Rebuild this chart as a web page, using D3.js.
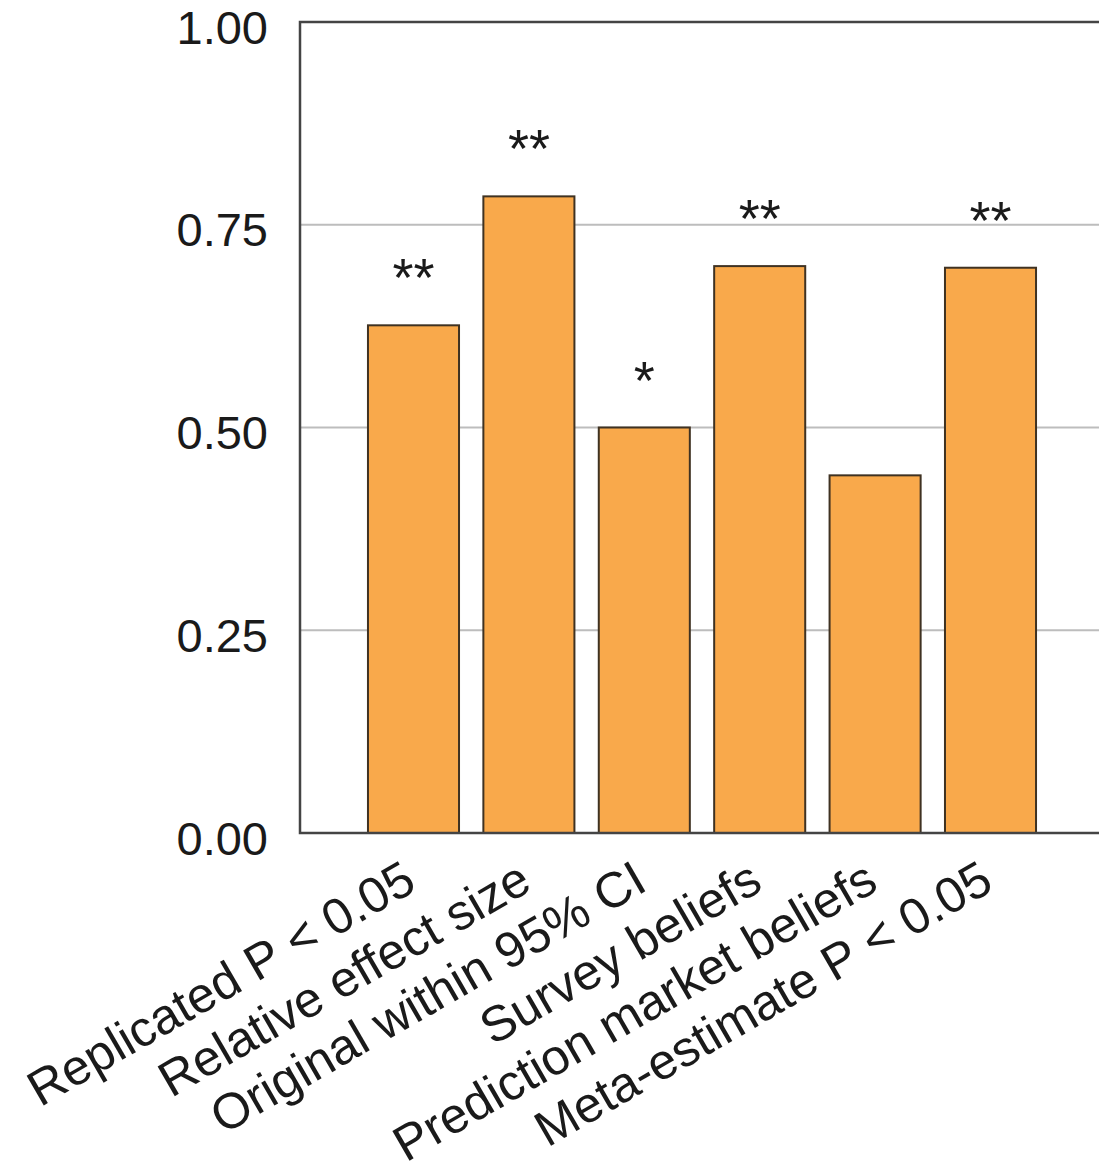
<!DOCTYPE html>
<html>
<head>
<meta charset="utf-8">
<script src="https://cdn.jsdelivr.net/npm/d3@7"></script>
<style>
  html, body { margin: 0; padding: 0; background: #fff; }
  svg { display: block; }
  text { font-family: "Liberation Sans", Arial, Helvetica, sans-serif; }
</style>
</head>
<body>
<div id="chart"></div>
<script>
const categories = [
  "Replicated P < 0.05",
  "Relative effect size",
  "Original within 95% CI",
  "Survey beliefs",
  "Prediction market beliefs",
  "Meta-estimate P < 0.05"
];
const values = [0.626, 0.785, 0.500, 0.699, 0.441, 0.697];
const stars = ["**", "**", "*", "**", "", "**"];
const yTicks = [0, 0.25, 0.5, 0.75, 1.0];
const yTickLabels = ["0.00", "0.25", "0.50", "0.75", "1.00"];

const W = 1099, H = 1171;
const plot = { left: 300, right: 1104, top: 22, bottom: 833 };

const svg = d3.select("#chart").append("svg")
  .attr("width", W).attr("height", H);

const x = d3.scaleBand()
  .domain(categories)
  .range([plot.left, plot.right])
  .paddingInner(0.211)
  .paddingOuter(0.589);

const y = d3.scaleLinear()
  .domain([0, 1])
  .range([plot.bottom, plot.top]);

// gridlines
svg.append("g")
  .selectAll("line")
  .data(yTicks.filter(t => t > 0 && t < 1))
  .join("line")
  .attr("x1", plot.left).attr("x2", plot.right)
  .attr("y1", d => y(d)).attr("y2", d => y(d))
  .attr("stroke", "#bdbdbd")
  .attr("stroke-width", 2);

// y axis labels
const yAxis = d3.axisLeft(y)
  .tickValues(yTicks)
  .tickFormat((d, i) => yTickLabels[i])
  .tickSize(0)
  .tickPadding(32);
const gy = svg.append("g")
  .attr("transform", `translate(${plot.left},0)`)
  .call(yAxis);
gy.select(".domain").remove();
gy.selectAll("text")
  .attr("font-size", 47)
  .attr("dy", "0.45em")
  .attr("fill", "#1a1a1a")
  .attr("font-family", "'Liberation Sans', Arial, sans-serif");

// bars
svg.append("g")
  .selectAll("rect")
  .data(categories)
  .join("rect")
  .attr("x", d => x(d))
  .attr("width", x.bandwidth())
  .attr("y", (d, i) => y(values[i]))
  .attr("height", (d, i) => y(0) - y(values[i]))
  .attr("fill", "#f9a94b")
  .attr("stroke", "#3f3222")
  .attr("stroke-width", 2);

// significance stars
svg.append("g")
  .selectAll("text")
  .data(categories)
  .join("text")
  .attr("x", d => x(d) + x.bandwidth() / 2)
  .attr("y", (d, i) => y(values[i]) - 29)
  .attr("text-anchor", "middle")
  .attr("font-size", 54)
  .attr("fill", "#1a1a1a")
  .text((d, i) => stars[i]);

// frame (left, top, bottom)
svg.append("path")
  .attr("d", `M${plot.right},${plot.top} H${plot.left} V${plot.bottom} H${plot.right}`)
  .attr("fill", "none")
  .attr("stroke", "#444")
  .attr("stroke-width", 2.5);
svg.append("line")
  .attr("x1", plot.right).attr("x2", plot.right)
  .attr("y1", plot.top).attr("y2", plot.bottom)
  .attr("stroke", "#444").attr("stroke-width", 2.5);

// category labels
const xAxis = d3.axisBottom(x).tickSize(0).tickPadding(0);
const gx = svg.append("g")
  .attr("transform", `translate(0,${plot.bottom})`)
  .call(xAxis);
gx.select(".domain").remove();
gx.selectAll("text")
  .attr("font-size", 50)
  .attr("fill", "#1a1a1a")
  .attr("font-family", "'Liberation Sans', Arial, sans-serif")
  .attr("text-anchor", "end")
  .attr("dy", null)
  .attr("y", 0)
  .attr("transform", "translate(5,56) rotate(-30)");
</script>
</body>
</html>
